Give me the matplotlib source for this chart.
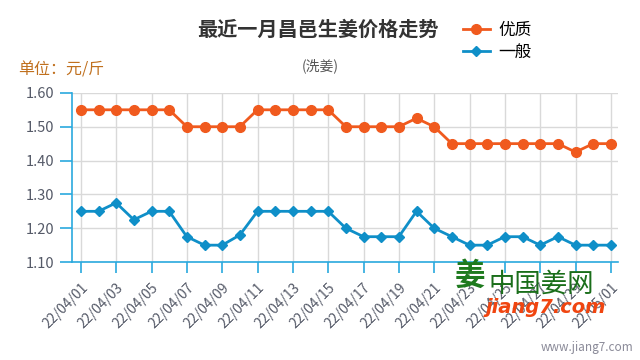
import matplotlib
matplotlib.use("Agg")
import matplotlib.pyplot as plt

plt.rcParams["font.family"] = ["Noto Sans CJK SC", "DejaVu Sans"]

# 2022/04/01 .. 2022/05/01
DATES = [f"22/04/{d:02d}" for d in range(1, 31)] + ["22/05/01"]
YOUZHI = [1.55, 1.55, 1.55, 1.55, 1.55, 1.55,
          1.50, 1.50, 1.50, 1.50,
          1.55, 1.55, 1.55, 1.55, 1.55,
          1.50, 1.50, 1.50, 1.50,
          1.525, 1.50,
          1.45, 1.45, 1.45, 1.45, 1.45, 1.45, 1.45,
          1.425, 1.45, 1.45]
YIBAN = [1.25, 1.25, 1.275, 1.225, 1.25, 1.25,
         1.175, 1.15, 1.15, 1.18,
         1.25, 1.25, 1.25, 1.25, 1.25,
         1.20, 1.175, 1.175, 1.175,
         1.25, 1.20, 1.175, 1.15, 1.15, 1.175, 1.175,
         1.15, 1.175, 1.15, 1.15, 1.15]
Y_TICKS = [1.10, 1.20, 1.30, 1.40, 1.50, 1.60]

ORANGE = "#f05a1e"
BLUE = "#0f8fc8"
AXIS_BLUE = "#2aa9de"
GRID = "#d9d9d9"
LABEL = "#555a68"

fig = plt.figure(figsize=(6.4, 3.6), dpi=100)
fig.patch.set_facecolor("white")
ax = fig.add_axes([0.1125, 0.272, 0.853, 0.47])

x = list(range(len(DATES)))
ax.plot(x, YOUZHI, color=ORANGE, lw=2, marker="o", ms=7, label="优质", zorder=3)
ax.plot(x, YIBAN, color=BLUE, lw=2, marker="D", ms=5.5, label="一般", zorder=3)

ax.set_xlim(-0.5, 30.4)
ax.set_ylim(1.10, 1.60)
ax.set_yticks(Y_TICKS)
ax.set_yticklabels([f"{v:.2f}" for v in Y_TICKS], fontsize=10.5)
ticks = x[::2]
ax.set_xticks(ticks)
ax.set_xticklabels([DATES[i] for i in ticks], rotation=45, ha="right",
                   rotation_mode="anchor", fontsize=10)

ax.grid(True, color=GRID, lw=1)
ax.set_axisbelow(True)
for s in ["top", "right"]:
    ax.spines[s].set_visible(False)
for s in ["left", "bottom"]:
    ax.spines[s].set_color(AXIS_BLUE)
    ax.spines[s].set_linewidth(1.2)
ax.tick_params(axis="x", colors=AXIS_BLUE, length=8, width=1.2, pad=5, labelcolor=LABEL)
ax.tick_params(axis="y", colors=AXIS_BLUE, length=9, width=1.2, pad=4, labelcolor=LABEL)

fig.text(0.497, 0.92, "最近一月昌邑生姜价格走势", ha="center", va="center",
         fontsize=14.5, fontweight="bold", color="#333333")
fig.text(0.5, 0.818, "(洗姜)", ha="center", va="center", fontsize=10, color="#555555")
fig.text(0.028, 0.805, "单位：元/斤", ha="left", va="center", fontsize=11.5, color="#c0701e")

fig.legend(loc="upper left", bbox_to_anchor=(0.70, 0.98), frameon=False,
           fontsize=12, handlelength=1.6, handletextpad=0.5, labelspacing=0.3)

# watermark
fig.text(0.735, 0.235, "姜", fontsize=22, color="#1e7a1e", fontweight="bold",
         va="center", ha="center")
fig.text(0.763, 0.21, "中国姜网", fontsize=19, color="#1a6e1a",
         va="center", ha="left")
fig.text(0.758, 0.145, "jiang7.com", fontsize=14, color="#f04510", fontweight="bold",
         style="italic", va="center", ha="left", family="DejaVu Sans")
fig.text(0.99, 0.035, "www.jiang7.com", fontsize=8.5, color="#8a8a98", ha="right", va="center")

fig.savefig("out.png", dpi=100, facecolor="white")
